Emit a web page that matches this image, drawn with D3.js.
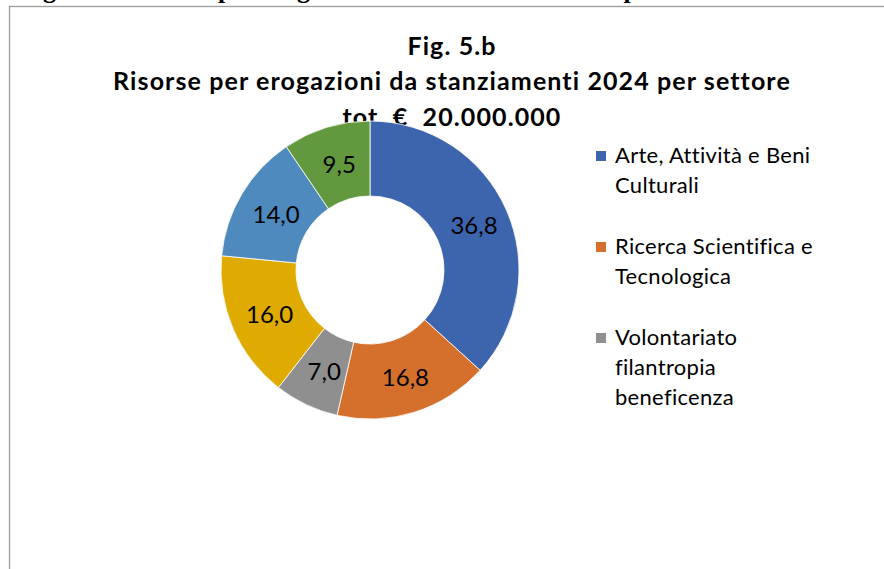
<!DOCTYPE html>
<html><head><meta charset="utf-8">
<script src="https://cdn.jsdelivr.net/npm/d3@7"></script>
<style>html,body{margin:0;padding:0;background:#fff;overflow:hidden}</style>
</head><body>
<svg id="c" width="884" height="569"></svg>
<script>
const categories = ["Arte, Attività e Beni Culturali","Ricerca Scientifica e Tecnologica","Volontariato filantropia beneficenza","Altro settore 4","Altro settore 5","Altro settore 6"];
const values = [36.8, 16.8, 7.0, 16.0, 14.0, 9.5];
const labels = ["36,8","16,8","7,0","16,0","14,0","9,5"];
const colors = ["#3D65AE","#D4702B","#8F8F8F","#E0AB00","#4E8ABE","#62993F"];
const legendLines = [["Arte, Attività e Beni","Culturali"],["Ricerca Scientifica e","Tecnologica"],["Volontariato","filantropia","beneficenza"]];
const titleLines = ["Fig. 5.b","Risorse per erogazioni da stanziamenti 2024 per settore","tot. €\u00a0 20.000.000"];
const pageHeading = "Fig. 5.b – Risorse per erogazioni da stanziamenti 2024 per settore";

const svg = d3.select("#c");
const F = "Lato, 'Open Sans', sans-serif";

// clipped page heading above the chart frame
svg.append("text").attr("x",20).attr("y",-2)
  .attr("font-family","'Liberation Serif', serif").attr("font-weight","bold").attr("font-size",26)
  .attr("fill","#000").text(pageHeading);

// chart frame
svg.append("rect").attr("x",9.5).attr("y",6.5).attr("width",900).attr("height",600)
  .attr("fill","none").attr("stroke","#9c9c9c").attr("stroke-width",1.3);

// title
const ty = [55, 90, 126];
titleLines.forEach((t,i)=>{
  svg.append("text").attr("x",452).attr("y",ty[i]).attr("text-anchor","middle")
    .attr("font-family",F).attr("font-weight","bold").attr("font-size",25)
    .attr("letter-spacing",1.1).attr("fill","#000").text(t);
});

// donut
const cx = 370, cy = 270, R = 149, r0 = 74;
const pie = d3.pie().sort(null).value(d=>d)(values);
const arc = d3.arc().innerRadius(r0).outerRadius(R);
const g = svg.append("g").attr("transform",`translate(${cx},${cy})`);
g.selectAll("path").data(pie).join("path")
  .attr("d",arc).attr("fill",(d,i)=>colors[i]).attr("stroke","#fff").attr("stroke-width",0.8);
g.selectAll("text").data(pie).join("text")
  .attr("transform",d=>{const c=arc.centroid(d);return `translate(${c[0]+2},${c[1]+1})`;})
  .attr("text-anchor","middle").attr("dy","0.35em")
  .attr("font-family",F).attr("font-size",24).attr("fill","#000")
  .text((d,i)=>labels[i]);

// legend
const ly = [163, 254, 345];
legendLines.forEach((lines,i)=>{
  svg.append("rect").attr("x",596).attr("y",ly[i]-12).attr("width",10).attr("height",10).attr("fill",colors[i]);
  lines.forEach((t,j)=>{
    svg.append("text").attr("x",615).attr("y",ly[i]+j*30)
      .attr("font-family",F).attr("font-size",22).attr("letter-spacing",0.3).attr("fill","#000").text(t);
  });
});
</script>
</body></html>
